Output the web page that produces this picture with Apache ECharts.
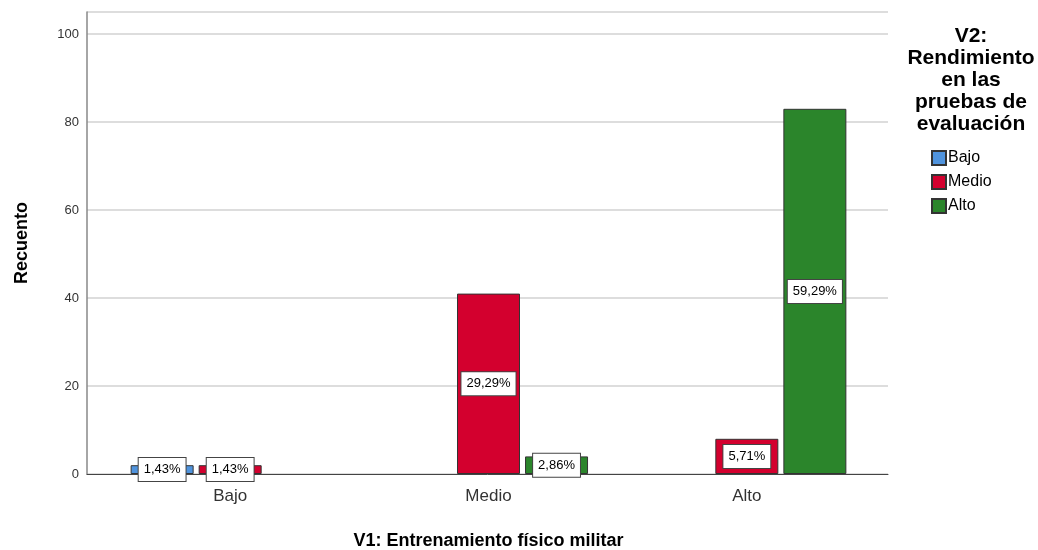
<!DOCTYPE html>
<html>
<head>
<meta charset="utf-8">
<script src="https://cdn.jsdelivr.net/npm/echarts@6/dist/echarts.min.js"></script>
<style>
  html, body { margin: 0; padding: 0; background: #fff; }
  #chart { width: 1038px; height: 550px; }
</style>
</head>
<body>
<div id="chart"></div>
<script>
  var categories = ['Bajo', 'Medio', 'Alto'];
  var seriesNames = ['Bajo', 'Medio', 'Alto'];
  var bajoCounts = [2, 0, 0];
  var medioCounts = [2, 41, 8];
  var altoCounts = [0, 4, 83];
  var yTicks = [0, 20, 40, 60, 80, 100];

  var colors = ['#4f93dd', '#d3002e', '#2b852b'];
  var font = 'Liberation Sans, Arial, sans-serif';

  var allCounts = [bajoCounts, medioCounts, altoCounts];
  var total = 0;
  allCounts.forEach(function (arr) {
    arr.forEach(function (v) { total += v; });
  });

  function pct(v) {
    return (v / total * 100).toFixed(2).replace('.', ',') + '%';
  }

  var chart = echarts.init(document.getElementById('chart'), null, { renderer: 'canvas' });

  var series = allCounts.map(function (arr, i) {
    return {
      name: seriesNames[i],
      type: 'bar',
      xAxisIndex: 1,
      yAxisIndex: 1,
      barWidth: 63,
      barGap: '8%',
      itemStyle: { color: colors[i], borderColor: '#333', borderWidth: 1 },
      label: {
        show: true,
        position: 'inside',
        formatter: function (p) { return pct(p.value); },
        fontFamily: font,
        fontSize: 13,
        color: '#000',
        backgroundColor: '#fff',
        borderColor: '#444',
        borderWidth: 1,
        padding: [4, 5],
        lineHeight: 15
      },
      data: arr.map(function (v) { return v === 0 ? null : v; })
    };
  });

  var option = {
    animation: false,
    textStyle: { fontFamily: font },
    title: {
      text: 'V2:\nRendimiento\nen las\npruebas de\nevaluación',
      left: 966,
      top: 20,
      textAlign: 'center',
      textStyle: { fontFamily: font, fontSize: 21, fontWeight: 'bold', color: '#000', lineHeight: 22 }
    },
    legend: {
      orient: 'vertical',
      left: 926,
      top: 145,
      itemWidth: 14,
      itemHeight: 14,
      itemGap: 8,
      icon: 'rect',
      textStyle: { fontFamily: font, fontSize: 16, color: '#000', padding: [0, 0, 0, -3] },
      data: seriesNames
    },
    grid: [
      { left: 87, right: 150, top: 12, bottom: 76, outerBoundsMode: 'none' },
      { left: 101, right: 162, top: 12, bottom: 76, outerBoundsMode: 'none' }
    ],
    xAxis: [
      {
        type: 'category',
        gridIndex: 0,
        data: categories,
        axisLine: { lineStyle: { color: '#444', width: 1 } },
        axisTick: { show: false },
        axisLabel: { show: false }
      },
      {
        type: 'category',
        gridIndex: 1,
        data: categories,
        name: 'V1: Entrenamiento físico militar',
        nameLocation: 'middle',
        nameGap: 58,
        nameTextStyle: { fontFamily: font, fontSize: 18, fontWeight: 'bold', color: '#000' },
        axisLine: { show: false },
        axisTick: { show: false },
        axisLabel: { fontFamily: font, fontSize: 17, color: '#333', margin: 14 }
      }
    ],
    yAxis: [
      {
        type: 'value',
        gridIndex: 0,
        min: 0,
        max: 105,
        interval: 20,
        name: 'Recuento',
        nameLocation: 'middle',
        nameGap: 56,
        nameTextStyle: { fontFamily: font, fontSize: 18, fontWeight: 'bold', color: '#000' },
        axisLine: { show: true, lineStyle: { color: '#888', width: 1.5 } },
        axisTick: { show: false },
        axisLabel: {
          fontFamily: font, fontSize: 13, color: '#333', margin: 8,
          formatter: function (v) { return yTicks.indexOf(v) >= 0 ? v : ''; }
        },
        splitLine: { lineStyle: { color: '#d2d2d2', width: 1.5 } }
      },
      {
        type: 'value',
        gridIndex: 1,
        min: 0,
        max: 105,
        show: false
      }
    ],
    series: series
  };

  chart.setOption(option);
  window.addEventListener('resize', chart.resize);
</script>
</body>
</html>
